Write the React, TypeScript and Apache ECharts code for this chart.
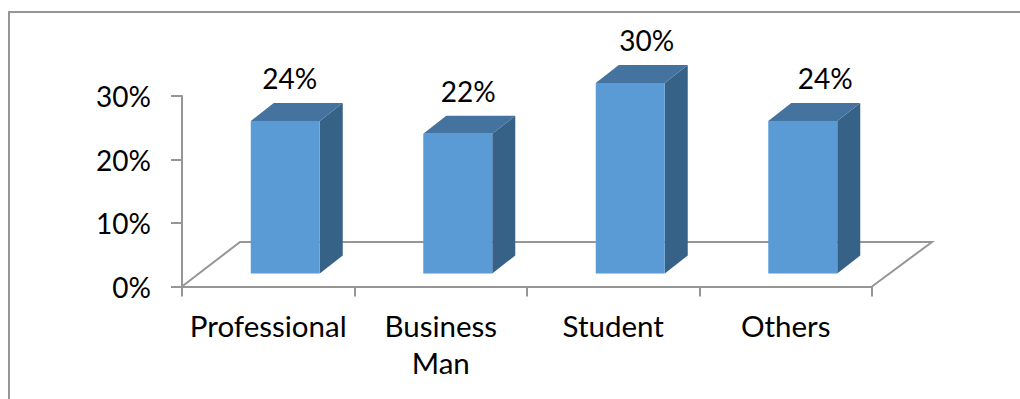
import React, { useEffect, useRef } from "react";
import * as echarts from "echarts";

const categories = ["Professional", "Business\nMan", "Student", "Others"];
const shares = [24, 22, 30, 24];
const yTicks = [0, 10, 20, 30];

const FONT = "Lato, 'Open Sans', sans-serif";
const AXIS_GREY = "#969696";
const DEPTH_X = 23;
const DEPTH_Y = 18;
const FLOOR_LIFT = 13;
const BAR_SHIFT = 17;
const BAR_WIDTH = 69;
const LABEL_DRIFT_START = 4.5;
const LABEL_DRIFT_STEP = 6;

// One box: front face, top face and side face, standing on the raised floor.
function renderBox(_params: any, api: any) {
  const idx = api.value(0);
  const value = api.value(1);
  const [cx, yTop] = api.coord([idx, value]);
  const [, yBase] = api.coord([idx, 0]);
  const left = cx + BAR_SHIFT - BAR_WIDTH / 2;
  const right = left + BAR_WIDTH;
  const top = yTop - FLOOR_LIFT;
  const bottom = yBase - FLOOR_LIFT;
  return {
    type: "group",
    children: [
      {
        type: "polygon",
        shape: { points: [[right, top], [right + DEPTH_X, top - DEPTH_Y], [right + DEPTH_X, bottom - DEPTH_Y], [right, bottom]] },
        style: { fill: "#376287" },
      },
      {
        type: "polygon",
        shape: { points: [[left, top], [left + DEPTH_X, top - DEPTH_Y], [right + DEPTH_X, top - DEPTH_Y], [right, top]] },
        style: { fill: "#44739f" },
      },
      { type: "rect", shape: { x: left, y: top, width: BAR_WIDTH, height: bottom - top }, style: { fill: "#5b9bd5" } },
      {
        type: "text",
        x: left + BAR_WIDTH / 2 + LABEL_DRIFT_START + idx * LABEL_DRIFT_STEP,
        y: top - DEPTH_Y - 25,
        style: { text: `${value}%`, fill: "#000", font: `28px ${FONT}`, align: "center", verticalAlign: "middle" },
      },
    ],
  };
}

// Floor outline behind the boxes, anchored to the ends of the category axis.
function renderFloor(_params: any, api: any) {
  const band = api.size([1, 0])[0];
  const [firstCentre, y0] = api.coord([0, 0]);
  const x0 = firstCentre - band / 2;
  const x1 = x0 + band * categories.length;
  return {
    type: "polyline",
    shape: { points: [[x0, y0], [x0 + 58, y0 - 44.5], [x1 + 60, y0 - 44.5], [x1, y0]] },
    style: { stroke: AXIS_GREY, lineWidth: 2, fill: "none" },
  };
}

export default function App() {
  const ref = useRef<HTMLDivElement>(null);
  useEffect(() => {
    const chart = echarts.init(ref.current!, undefined, { renderer: "svg" });
    chart.setOption({
      animation: false,
      backgroundColor: "#fff",
      grid: { left: 182, top: 96, width: 690, height: 190.5 },
      xAxis: {
        type: "category",
        data: categories,
        axisLine: { lineStyle: { color: AXIS_GREY, width: 2 } },
        axisTick: { show: true, length: 10, alignWithLabel: false, lineStyle: { color: AXIS_GREY, width: 2 } },
        axisLabel: { color: "#000", fontFamily: FONT, fontSize: 29.5, margin: 20, lineHeight: 37, interval: 0, verticalAlign: "top" },
      },
      yAxis: {
        type: "value",
        min: yTicks[0],
        max: yTicks[yTicks.length - 1],
        interval: 10,
        splitLine: { show: false },
        axisLine: { show: true, lineStyle: { color: AXIS_GREY, width: 2 } },
        axisTick: { show: true, length: 11, lineStyle: { color: AXIS_GREY, width: 2 } },
        axisLabel: { color: "#000", fontFamily: FONT, fontSize: 28, margin: 31, formatter: "{value}%" },
      },
      series: [
        { type: "custom", coordinateSystem: "cartesian2d", renderItem: renderFloor, data: [[0, 0]], z: 1, silent: true, clip: false },
        {
          type: "custom",
          coordinateSystem: "cartesian2d",
          renderItem: renderBox,
          data: shares.map((v, i) => [i, v]),
          encode: { x: 0, y: 1 },
          z: 2,
          clip: false,
        },
      ],
      graphic: [
        {
          type: "polyline",
          shape: { points: [[9, 399], [9, 12], [1020, 12]] },
          style: { stroke: AXIS_GREY, lineWidth: 2, fill: "none" },
          silent: true,
        },
      ],
    });
    return () => chart.dispose();
  }, []);
  return <div ref={ref} style={{ position: "fixed", left: 0, top: 0, width: 1020, height: 399 }} />;
}
